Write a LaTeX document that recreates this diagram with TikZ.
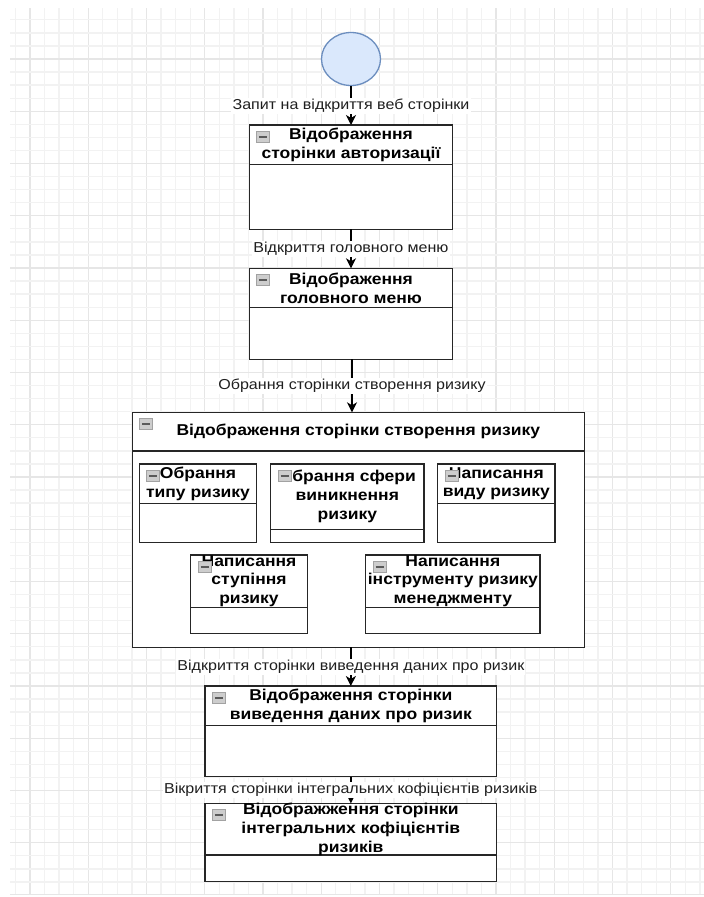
\documentclass[tikz,border=0pt]{standalone}
\usepackage{fontspec}
\setmainfont{Liberation Sans}[FakeStretch=1.115]
\usetikzlibrary{shapes.geometric,arrows.meta,calc}

\definecolor{gridminor}{HTML}{F2F2F2}
\definecolor{gridmajor}{HTML}{E6E6E6}
\definecolor{startfill}{HTML}{DAE8FC}
\definecolor{startline}{HTML}{6C8EBF}
\definecolor{iconfill}{HTML}{CDCDCD}
\definecolor{iconline}{HTML}{A2A2A2}
\definecolor{iconbar}{HTML}{5A5A5A}

\tikzset{
  lane/.style={rectangle, draw=black!85, fill=white, line width=1.4pt, inner sep=0pt, outer sep=0pt},
  lane rule/.style={draw=black!85, line width=1.4pt},
  lane title/.style={font=\fontsize{15.7}{18.8}\selectfont\bfseries, align=center, inner sep=0pt, text=black},
  collapse icon/.style={rectangle, anchor=north west, draw=iconline, fill=iconfill, line width=0.8pt,
    minimum width=13pt, minimum height=10.5pt, inner sep=0pt,
    path picture={\draw[line width=1.8pt, iconbar]
      ([xshift=2.4pt]path picture bounding box.west) -- ([xshift=-2.4pt]path picture bounding box.east);}},
  startstate/.style={ellipse, draw=startline, fill=startfill, line width=1.3pt,
    minimum width=59pt, minimum height=53pt, inner sep=0pt},
  flow/.style={draw=black, line width=1.3pt, -{Stealth[length=10pt,width=10pt,inset=3pt]}},
  flow label/.style={fill=white, font=\fontsize{14.4}{17}\selectfont, text=black!88, inner sep=1.2pt},
}

% swimlane container: name, x1, y1, x2, y2, header bottom, title
\newcommand\lanebox[7]{%
  \node[lane, minimum width={(#4)-(#2)}, minimum height={(#5)-(#3)}] (#1)
    at ({((#2)+(#4))/2},{((#3)+(#5))/2}) {};
  \draw[lane rule] (#2,#6) -- (#4,#6);
  \node[lane title] (#1-title) at ({((#2)+(#4))/2},{((#3)+(#6))/2}) {#7};
  \node[collapse icon] (#1-icon) at ([shift={(7pt,-6pt)}]#1.north west) {};
}

\begin{document}
\begin{tikzpicture}[x=1pt,y=-1pt]
  \useasboundingbox (0,0) rectangle (704,897);
  \fill[white] (0,0) rectangle (704,897);

  % background grid
  \begin{scope}
    \clip (10,8) rectangle (704,894);
    \foreach \k in {-2,...,47} {
      \pgfmathsetmacro\gx{30+14.5625*\k}
      \pgfmathtruncatemacro\gm{mod(\k+8,4)}
      \ifnum\gm=0
        \draw[gridmajor, line width=1.3pt] (\gx,0) -- (\gx,897);
      \else
        \draw[gridminor, line width=1.3pt] (\gx,0) -- (\gx,897);
      \fi
    }
    \foreach \k in {-5,...,65} {
      \pgfmathsetmacro\gy{59+13.0625*\k}
      \pgfmathtruncatemacro\gm{mod(\k+8,4)}
      \ifnum\gm=0
        \draw[gridmajor, line width=1.3pt] (0,\gy) -- (704,\gy);
      \else
        \draw[gridminor, line width=1.3pt] (0,\gy) -- (704,\gy);
      \fi
    }
  \end{scope}

  % start state
  \node[startstate] (start) at (351,59) {};

  % pages
  \lanebox{auth}{249.3}{125}{452.7}{229.3}{164.3}{Відображення\\сторінки авторизації}
  \lanebox{menu}{249.3}{268.3}{452.7}{359.3}{307.7}{Відображення\\головного меню}
  \lanebox{create}{132.3}{412.3}{584.3}{647.3}{451}{Відображення сторінки створення ризику}
  \lanebox{rtype}{139.3}{464}{256.7}{542.7}{503.3}{Обрання\\типу ризику}
  \lanebox{rsphere}{270.7}{464}{424}{542.7}{529.3}{Обрання сфери\\виникнення\\ризику}
  \lanebox{rkind}{437.7}{464}{555}{542.7}{503.3}{Написання\\виду ризику}
  \lanebox{rdegree}{190.7}{555}{307.3}{633.3}{607.3}{Написання\\ступіння\\ризику}
  \lanebox{rtool}{365.7}{555}{540}{633.3}{607.3}{Написання\\інструменту ризику\\менеджменту}
  \lanebox{data}{205}{686}{496.7}{776.7}{725.7}{Відображення сторінки\\виведення даних про ризик}
  \lanebox{integral}{205}{803.3}{496.7}{881.7}{855}{Відображження сторінки\\інтегральних кофіцієнтів\\ризиків}

  % transitions
  \draw[flow] (start) -- (start |- auth.north)
    node[flow label, midway] {Запит на відкриття веб сторінки};
  \draw[flow] (auth.south) -- (menu.north)
    node[flow label, midway] {Відкриття головного меню};
  \draw[flow] ([xshift=1pt]menu.south) -- ([xshift=1pt]menu.south |- create.north)
    node[flow label, midway] {Обрання сторінки створення ризику};
  \draw[flow] (data.north |- create.south) -- (data.north)
    node[flow label, midway] {Відкриття сторінки виведення даних про ризик};
  \draw[flow] (data.south) -- (integral.north)
    node[flow label, midway] {Вікриття сторінки інтегральних кофіцієнтів ризиків};
\end{tikzpicture}
\end{document}
